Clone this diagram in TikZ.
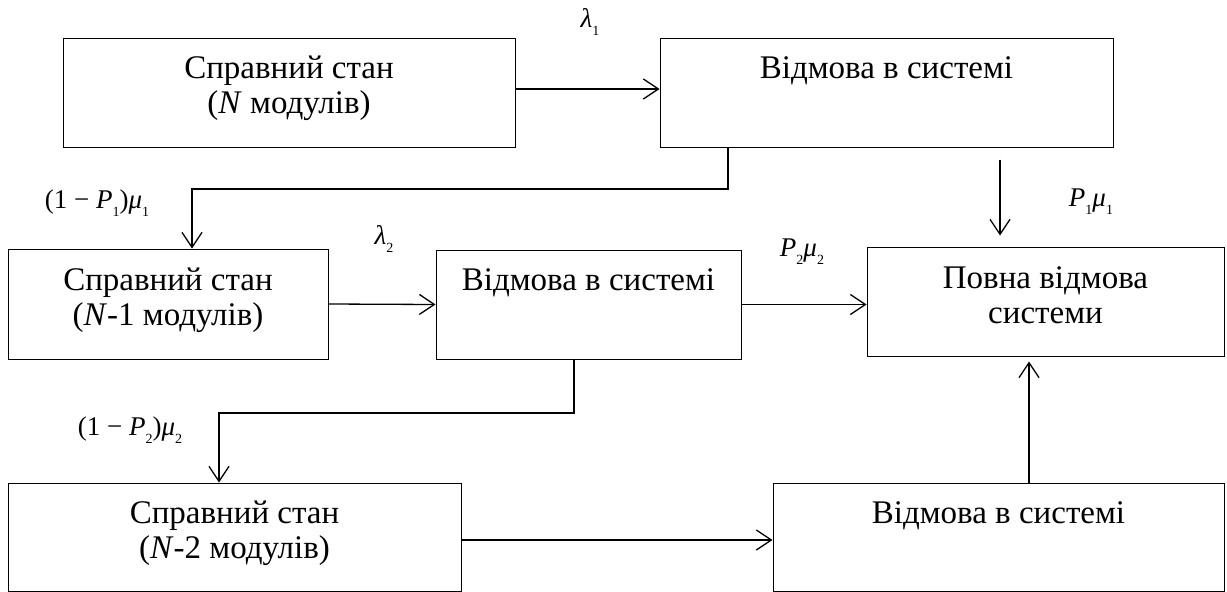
\documentclass[tikz,border=0pt]{standalone}
\usepackage{fontspec}
\setmainfont{LiberationSerif}[Extension=.ttf, UprightFont=*-Regular, ItalicFont=*-Italic, BoldFont=*-Bold, BoldItalicFont=*-BoldItalic]
\usetikzlibrary{arrows.meta,fit}
\newcommand{\sbx}[1]{\raisebox{-0.3em}{\fontsize{14}{14}\selectfont #1}}
\begin{document}
\begin{tikzpicture}[x=1pt,y=-1pt,
  box/.style={draw, line width=1pt, inner sep=0pt},
  arr/.style={line width=1.3pt, -{Straight Barb[length=15pt,width=20pt]}},
  txt/.style={inner sep=0pt, anchor=base, font=\fontsize{33}{38}\selectfont},
  lbl/.style={inner sep=0pt, font=\fontsize{27}{30}\selectfont}]
\useasboundingbox (0,0) rectangle (1227,592);
% boxes
\node[box, fit={(63,38) (515,147)}] (A) {};
\node[box, fit={(660,38) (1113,147)}] (B) {};
\node[box, fit={(8,249) (328,359)}] (C) {};
\node[box, fit={(436,250) (741,359)}] (D) {};
\node[box, fit={(867,247) (1224,356)}] (E) {};
\node[box, fit={(8,483) (461,591)}] (F) {};
\node[box, fit={(773,483) (1224,591)}] (G) {};
% texts
\node[txt] (tA1) at (289,78) {Справний стан};
\node[txt] (tA2) at (289,113) {(\textit{N} модулів)};
\node[txt] (tB) at (886.5,78) {Відмова в системі};
\node[txt] (tC1) at (168,290) {Справний стан};
\node[txt] (tC2) at (168,325) {(\textit{N}-1 модулів)};
\node[txt] (tD) at (588.5,290) {Відмова в системі};
\node[txt] (tE1) at (1045.5,288) {Повна відмова};
\node[txt] (tE2) at (1045.5,323) {системи};
\node[txt] (tF1) at (234.5,523) {Справний стан};
\node[txt] (tF2) at (234.5,558) {(\textit{N}-2 модулів)};
\node[txt] (tG) at (998.5,523) {Відмова в системі};
% labels
\node[lbl] (l1) at (590,22) {\textit{λ}\sbx{1}};
\node[lbl] (l2) at (97,203) {(1 − \textit{P}\sbx{1})\textit{μ}\sbx{1}};
\node[lbl] (l3) at (384,239) {\textit{λ}\sbx{2}};
\node[lbl] (l4) at (1091,202) {\textit{P}\sbx{1}\textit{μ}\sbx{1}};
\node[lbl] (l5) at (802,252) {\textit{P}\sbx{2}\textit{μ}\sbx{2}};
\node[lbl] (l6) at (130,430) {(1 − \textit{P}\sbx{2})\textit{μ}\sbx{2}};
% helper coordinates
\coordinate (k1) at (728,189);
\coordinate (k2) at (192,189);
\coordinate (m1) at (574,413);
\coordinate (m2) at (219,413);
\coordinate (xBE) at (1000,0);
\coordinate (xGE) at (1029,0);
% connectors
\draw[arr] ([yshift=3.5pt]A.east) -- ([yshift=3.5pt]B.west);
\draw[arr] (B.south -| k1) -- (k1) -- (k2) -- (C.north -| k2);
\draw[arr] (C.east) -- (D.west);
\draw[arr] (D.east) -- (D.east -| E.west);
\draw[arr, shorten <=12pt, shorten >=11pt] (B.south -| xBE) -- (E.north -| xBE);
\draw[arr] (D.south -| m1) -- (m1) -- (m2) -- (F.north -| m2);
\draw[arr] ([yshift=-3pt]F.east) -- ([yshift=-3pt]G.west);
\draw[arr, shorten >=5pt] (G.north -| xGE) -- (E.south -| xGE);
\end{tikzpicture}
\end{document}
